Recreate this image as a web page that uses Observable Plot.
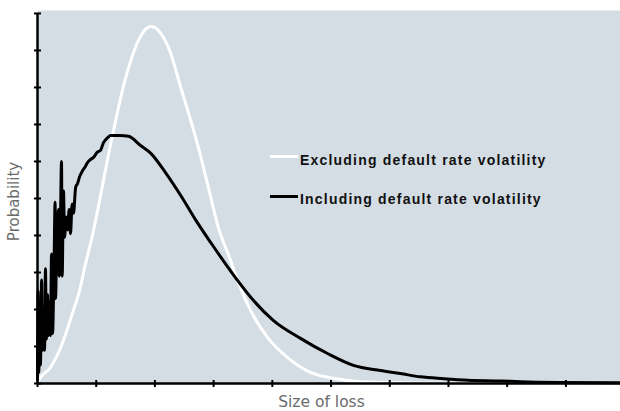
<!DOCTYPE html>
<html>
<head>
<meta charset="utf-8">
<script src="https://cdn.jsdelivr.net/npm/d3@7"></script>
<script src="https://cdn.jsdelivr.net/npm/@observablehq/plot@0.6"></script>
<style>
  body { margin: 0; background: #fff; }
  #wrap { position: relative; width: 620px; height: 411px; }
  .sw { position: absolute; left: 270px; width: 28px; height: 3px; }
  .lg { position: absolute; left: 300px; font-family: "Liberation Sans", Arial, sans-serif; font-weight: bold; font-size: 14px; line-height: 14px; letter-spacing: 1.2px; color: #111; white-space: nowrap; }
</style>
</head>
<body>
<div id="wrap"></div>
<script>
// Axis ticks (no labels shown)
const xTicks = [0, 1, 2, 3, 4, 5, 6, 7, 8, 9];
const yTicks = [0, 1, 2, 3, 4, 5, 6, 7, 8, 9, 10];

// Series names
const seriesNames = ["Excluding default rate volatility", "Including default rate volatility"];

// Excluding default rate volatility (white)
const whiteX = [0.00, 0.02, 0.22, 0.39, 0.61, 0.73, 0.78, 0.95, 1.11, 1.24, 1.36, 1.48, 1.60, 1.72, 1.82, 1.93, 2.02, 2.10, 2.27, 2.44, 2.61, 2.74, 2.91, 3.08, 3.29, 3.41, 3.63, 3.92, 4.26, 4.65, 5.04, 5.50, 6.20, 7.00, 8.00, 9.93];
const whiteY = [0.00, 0.08, 0.43, 0.95, 1.97, 2.59, 2.97, 4.10, 5.38, 6.43, 7.32, 8.14, 8.78, 9.27, 9.54, 9.65, 9.60, 9.46, 8.92, 8.00, 7.11, 6.38, 5.30, 4.22, 3.32, 2.78, 1.97, 1.24, 0.70, 0.30, 0.14, 0.05, 0.02, 0.01, 0.01, 0.01];

// Including default rate volatility (black)
const blackX = [0.00, 0.01, 0.02, 0.04, 0.05, 0.07, 0.085, 0.10, 0.12, 0.136, 0.15, 0.17, 0.187, 0.20, 0.22, 0.24, 0.256, 0.28, 0.30, 0.307, 0.33, 0.358, 0.37, 0.39, 0.409, 0.42, 0.443, 0.46, 0.49, 0.511, 0.54, 0.562, 0.59, 0.613, 0.65, 0.681, 0.72, 0.767, 0.81, 0.852, 0.90, 0.954, 1.02, 1.073, 1.124, 1.20, 1.244, 1.40, 1.55, 1.755, 1.93, 2.18, 2.44, 2.69, 2.95, 3.20, 3.41, 3.68, 4.02, 4.48, 4.94, 5.38, 5.84, 6.18, 6.52, 6.92, 7.33, 7.89, 8.23, 8.90, 9.93];
const blackY = [0.10, 2.50, 0.30, 1.60, 0.50, 2.80, 0.90, 2.00, 0.90, 3.10, 1.20, 2.40, 1.30, 2.20, 1.30, 3.50, 1.35, 3.00, 4.90, 2.30, 4.00, 4.70, 2.90, 4.20, 6.00, 2.90, 5.20, 3.95, 4.50, 4.15, 4.70, 4.05, 4.85, 4.60, 5.30, 5.40, 5.60, 5.75, 5.85, 5.97, 6.05, 6.11, 6.25, 6.30, 6.51, 6.65, 6.70, 6.70, 6.68, 6.43, 6.22, 5.70, 5.08, 4.43, 3.81, 3.24, 2.78, 2.24, 1.70, 1.22, 0.81, 0.49, 0.35, 0.27, 0.18, 0.13, 0.09, 0.07, 0.05, 0.03, 0.02];

const white = whiteX.map((x, i) => ({x, y: whiteY[i]}));
const black = blackX.map((x, i) => ({x, y: blackY[i]}));

const chart = Plot.plot({
  width: 620,
  height: 411,
  marginLeft: 37,
  marginRight: 0,
  marginTop: 10,
  marginBottom: 28,
  style: {background: "#fff", overflow: "visible"},
  x: {domain: [0, 9.93]},
  y: {domain: [0, 10.08]},
  marks: [
    Plot.frame({fill: "#d4dde4", stroke: null}),
    Plot.line(white, {x: "x", y: "y", stroke: "#ffffff", strokeWidth: 3, strokeLinejoin: "round", curve: "monotone-x"}),
    Plot.line(black, {x: "x", y: "y", stroke: "#000000", strokeWidth: 3, strokeLinejoin: "round", curve: "monotone-x"}),
    Plot.ruleX([0], {y1: 0, y2: 10, stroke: "#000", strokeWidth: 2.5}),
    Plot.ruleY([0], {stroke: "#000", strokeWidth: 2.5}),
    Plot.axisY(yTicks, {tickSize: 7, dx: 4, tickFormat: () => "", strokeWidth: 2, stroke: "#000", label: null}),
    Plot.axisX(xTicks, {tickSize: 7, dy: -3, tickFormat: () => "", strokeWidth: 2, stroke: "#000", label: null}),
    Plot.text(["Probability"], {frameAnchor: "left", textAnchor: "middle", rotate: -90, dx: -23, dy: 4.5, fontSize: 15, fill: "#6b6b6b", fontFamily: "DejaVu Sans"}),
    Plot.text(["Size of loss"], {frameAnchor: "bottom", textAnchor: "middle", dx: -7.5, dy: 23, fontSize: 15.5, fill: "#6b6b6b", fontFamily: "DejaVu Sans"})
  ]
});

const wrap = document.getElementById("wrap");
wrap.appendChild(chart);

// Legend overlay
const legend = [
  {name: seriesNames[0], color: "#ffffff", swTop: 155, txTop: 153},
  {name: seriesNames[1], color: "#000000", swTop: 195, txTop: 192}
];
for (const l of legend) {
  const sw = document.createElement("div");
  sw.className = "sw";
  sw.style.top = l.swTop + "px";
  sw.style.background = l.color;
  wrap.appendChild(sw);
  const tx = document.createElement("div");
  tx.className = "lg";
  tx.style.top = l.txTop + "px";
  tx.textContent = l.name;
  wrap.appendChild(tx);
}
</script>
</body>
</html>
